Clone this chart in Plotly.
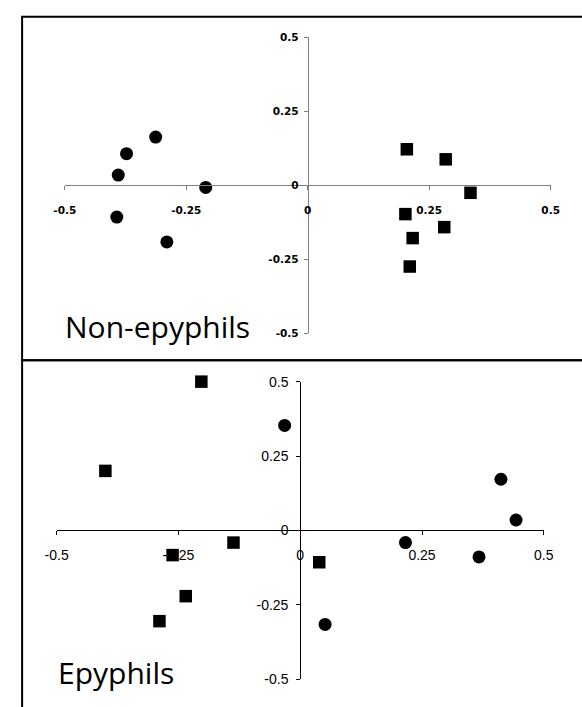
import plotly.graph_objects as go

W, H = 582, 707

# ---- data ----
ticks = [-0.5, -0.25, 0, 0.25, 0.5]
tick_text = ["-0.5", "-0.25", "0", "0.25", "0.5"]

non_circle_x = [-0.313, -0.373, -0.390, -0.210, -0.393, -0.290]
non_circle_y = [0.163, 0.107, 0.035, -0.007, -0.107, -0.191]
non_square_x = [0.204, 0.284, 0.335, 0.201, 0.281, 0.216, 0.210]
non_square_y = [0.122, 0.088, -0.025, -0.097, -0.141, -0.178, -0.274]

epy_square_x = [-0.203, -0.400, -0.137, -0.262, 0.039, -0.235, -0.289]
epy_square_y = [0.500, 0.200, -0.041, -0.083, -0.107, -0.221, -0.305]
epy_circle_x = [-0.032, 0.412, 0.443, 0.216, 0.367, 0.051]
epy_circle_y = [0.353, 0.172, 0.035, -0.041, -0.089, -0.316]

panel_labels = ["Non-epyphils", "Epyphils"]

fig = go.Figure()

def px_x(p):
    return p / W

def px_y(p):
    return 1 - p / H

circ = dict(symbol="circle", color="black", size=13, line=dict(width=0))
sq = dict(symbol="square", color="black", size=12.5, line=dict(width=0))

fig.add_trace(go.Scatter(x=non_circle_x, y=non_circle_y, mode="markers", marker=circ,
                         xaxis="x", yaxis="y", cliponaxis=False, showlegend=False))
fig.add_trace(go.Scatter(x=non_square_x, y=non_square_y, mode="markers", marker=sq,
                         xaxis="x", yaxis="y", cliponaxis=False, showlegend=False))
fig.add_trace(go.Scatter(x=epy_square_x, y=epy_square_y, mode="markers", marker=sq,
                         xaxis="x2", yaxis="y2", cliponaxis=False, showlegend=False))
fig.add_trace(go.Scatter(x=epy_circle_x, y=epy_circle_y, mode="markers", marker=circ,
                         xaxis="x2", yaxis="y2", cliponaxis=False, showlegend=False))

# top panel geometry (pixels)
tx0, tx1 = 54.9, 559.8
ty_top, ty_bot = 30.0, 333.0
# bottom panel geometry
bx0, bx1 = 46.4, 552.7
by_top, by_bot = 382.3, 686.7

top_font = dict(family="DejaVu Sans", size=10.5, color="black", weight="bold")
bot_font = dict(family="Liberation Sans, Arial", size=14, color="black")

common = dict(range=[-0.5, 0.5], tickvals=ticks, ticktext=tick_text, showgrid=False,
              zeroline=False, showline=True, ticks="outside", ticklen=4, tickwidth=1,
              fixedrange=True)

fig.update_layout(
    width=W, height=H,
    margin=dict(l=0, r=0, t=0, b=0),
    paper_bgcolor="white", plot_bgcolor="rgba(0,0,0,0)",
    xaxis=dict(domain=[px_x(tx0), px_x(tx1)], anchor="free",
               position=px_y((ty_top + ty_bot) / 2),
               linecolor="#808080", tickcolor="#808080", linewidth=1,
               tickfont=top_font, ticklabelstandoff=11, **common),
    yaxis=dict(domain=[px_y(ty_bot), px_y(ty_top)], anchor="free",
               position=px_x((tx0 + tx1) / 2),
               linecolor="#808080", tickcolor="#808080", linewidth=1,
               tickfont=top_font, ticklabelstandoff=3, **common),
    xaxis2=dict(domain=[px_x(bx0), px_x(bx1)], anchor="free",
                position=px_y((by_top + by_bot) / 2),
                linecolor="black", tickcolor="black", linewidth=1,
                tickfont=bot_font, ticklabelstandoff=8, **common),
    yaxis2=dict(domain=[px_y(by_bot), px_y(by_top)], anchor="free",
                position=px_x((bx0 + bx1) / 2),
                linecolor="black", tickcolor="black", linewidth=1,
                tickfont=bot_font, ticklabelstandoff=5, **common),
)

# panel frames
fig.add_shape(type="rect", xref="paper", yref="paper",
              x0=px_x(10.5), x1=px_x(600), y0=px_y(360.5), y1=px_y(9),
              line=dict(color="black", width=2), layer="below")
fig.add_shape(type="rect", xref="paper", yref="paper",
              x0=px_x(10.5), x1=px_x(600), y0=px_y(740), y1=px_y(360.5),
              line=dict(color="black", width=2), layer="below")

label_font = dict(family="Open Sans", size=30, color="black")
fig.add_annotation(text=panel_labels[0], xref="paper", yref="paper",
                   x=px_x(53), y=px_y(326), xanchor="left", yanchor="middle",
                   showarrow=False, font=label_font)
fig.add_annotation(text=panel_labels[1], xref="paper", yref="paper",
                   x=px_x(46), y=px_y(680), xanchor="left", yanchor="middle",
                   showarrow=False, font=label_font)

fig.write_html("out.html")
